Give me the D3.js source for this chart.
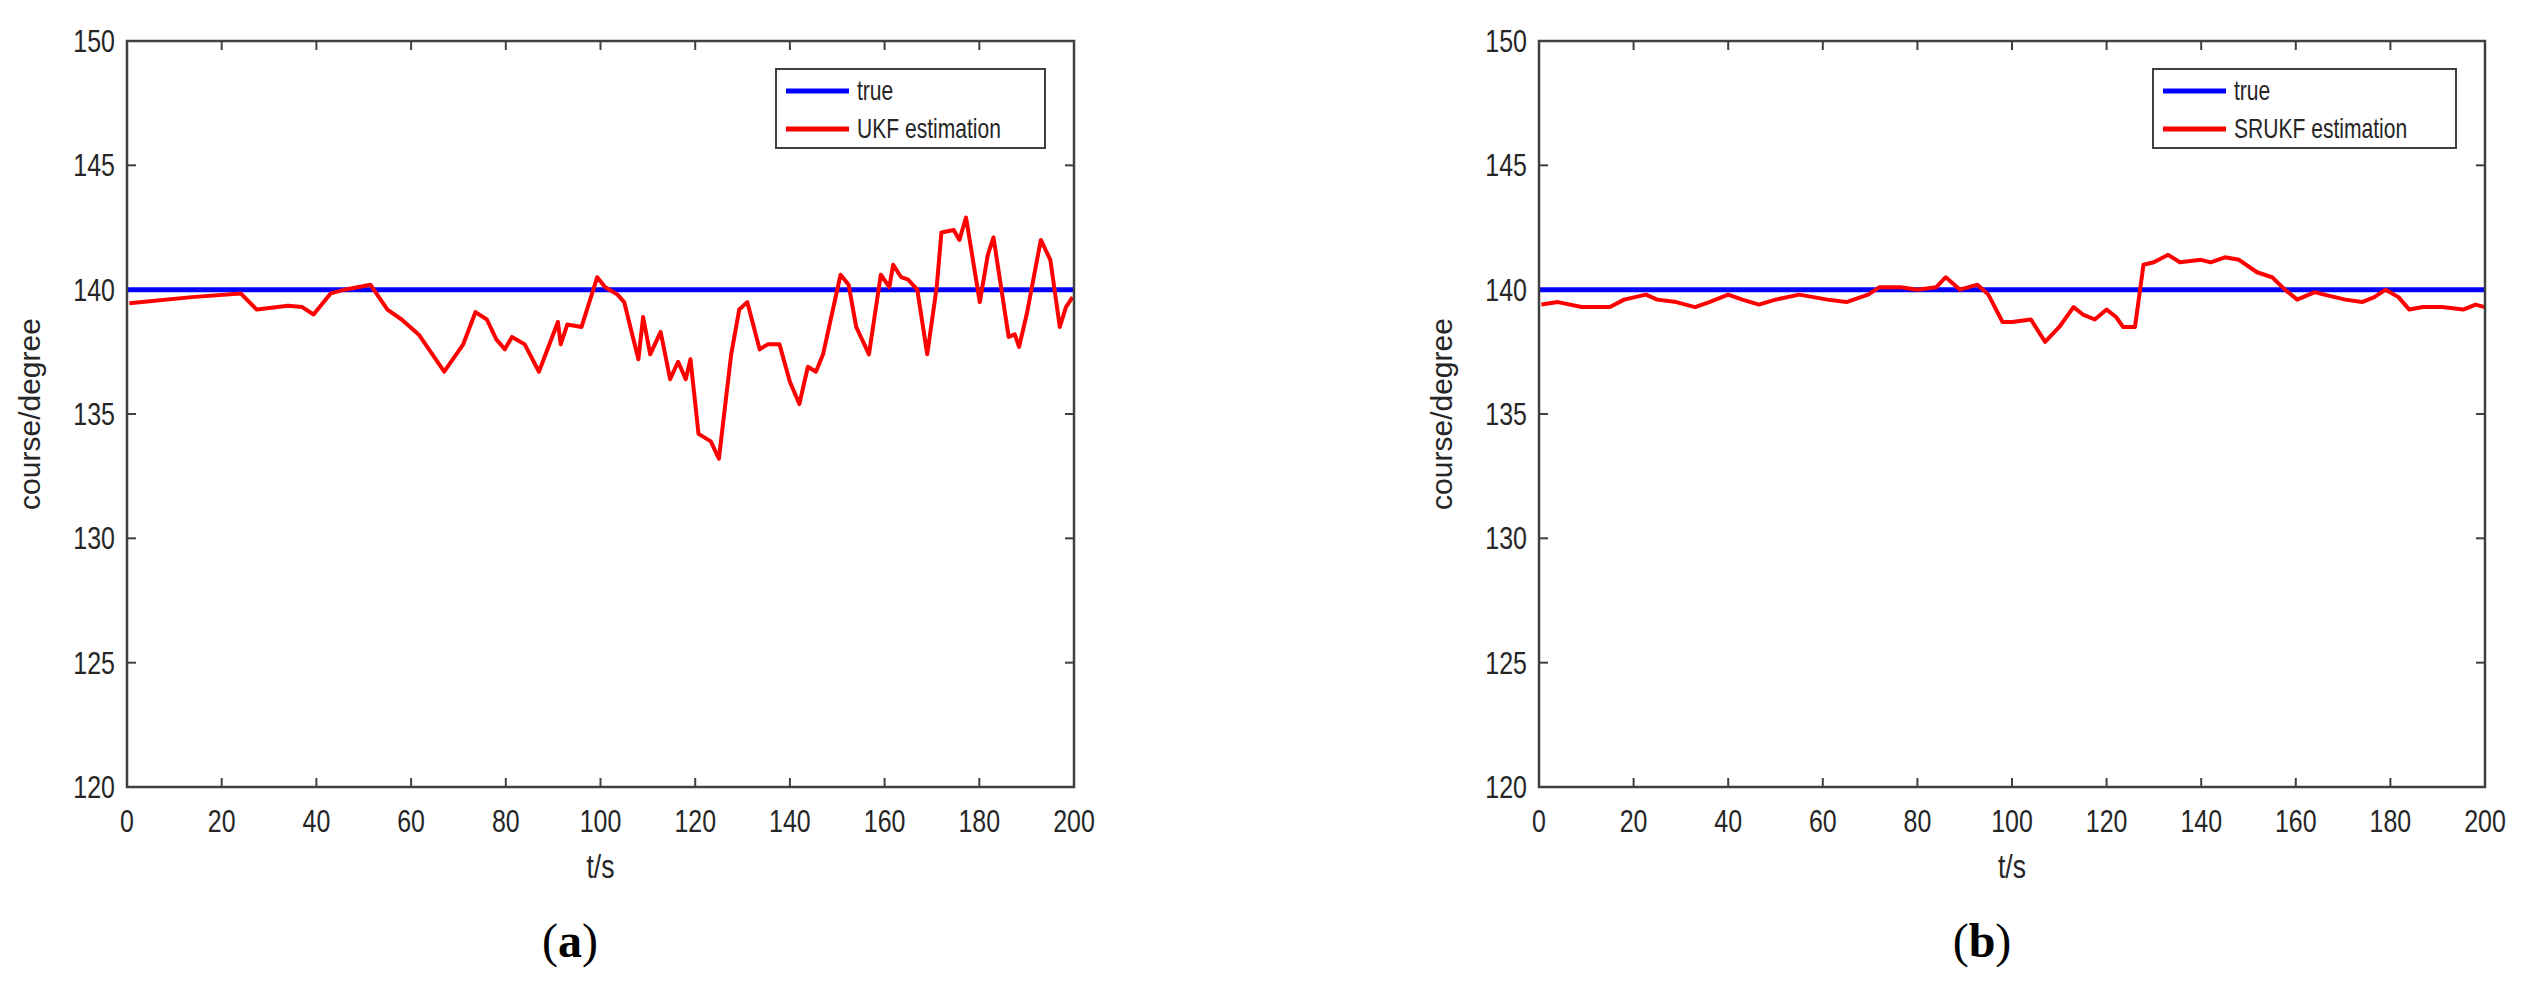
<!DOCTYPE html>
<html><head><meta charset="utf-8">
<script src="https://cdn.jsdelivr.net/npm/d3@7"></script>
<style>body{margin:0;background:#fff}</style></head>
<body><svg id="c" width="2538" height="990"></svg>
<script>
const xTicks=[0,20,40,60,80,100,120,140,160,180,200];
const yTicks=[120,125,130,135,140,145,150];
const trueValue=140;
const ukfT=[0.5,13.7,24,27.4,34,37,39.4,43,46,51.4,55,58,61.6,67,71,73.6,76,78,79.8,81.3,84,87,91,91.6,93,96,99.3,101,103.6,105,108,109,110.5,112.7,114.7,116.4,118,119,120.7,123.3,125,127.6,129.3,131,133.6,135.3,137.8,140,142,143.8,145.5,147,150.7,152.4,154,156.7,159.2,161,161.8,163.5,165,166.9,169,171,172,174.6,175.8,177.2,180.1,181.8,183,186.2,187.5,188.4,190,193,195,197,198.3,199.7];
const ukfV=[139.45,139.7,139.85,139.2,139.35,139.3,139.0,139.85,140,140.2,139.2,138.8,138.2,136.7,137.8,139.1,138.8,138.0,137.6,138.1,137.8,136.7,138.7,137.8,138.6,138.5,140.5,140.1,139.8,139.5,137.2,138.9,137.4,138.3,136.4,137.1,136.4,137.2,134.2,133.9,133.2,137.4,139.2,139.5,137.6,137.8,137.8,136.3,135.4,136.9,136.7,137.4,140.6,140.2,138.5,137.4,140.6,140.1,141,140.5,140.4,140,137.4,140.1,142.3,142.4,142,142.9,139.5,141.4,142.1,138.1,138.2,137.7,139.0,142.0,141.2,138.5,139.3,139.7];
const srT=[0.5,4,9,15,18,22.6,25,29,33,36,40,43,46.5,50,55,61,65,69.6,72,76.5,80,84,86,89,92.7,95,98,100,104,107,110,113,115,117.5,120,122,123.5,126,127.8,130,133,135.5,140,142,145,148,151.8,155,157.7,160.3,164,166,170.5,174,176.6,179,181.7,184,186.9,191,195.4,198,200];
const srV=[139.4,139.5,139.3,139.3,139.6,139.8,139.6,139.5,139.3,139.5,139.8,139.6,139.4,139.6,139.8,139.6,139.5,139.8,140.1,140.1,140.0,140.1,140.5,140.0,140.2,139.8,138.7,138.7,138.8,137.9,138.5,139.3,139.0,138.8,139.2,138.9,138.5,138.5,141.0,141.1,141.4,141.1,141.2,141.1,141.3,141.2,140.7,140.5,140.0,139.6,139.9,139.8,139.6,139.5,139.7,140.0,139.7,139.2,139.3,139.3,139.2,139.4,139.3];

const svg=d3.select('#c');
const SX=0.78;
function txt(g,x,y,s,anchor,size,base){
  const t=g.append('g').attr('transform',`translate(${x},${y}) scale(${SX},1)`);
  t.append('text').attr('text-anchor',anchor).attr('dominant-baseline',base||'auto')
   .attr('font-family','Liberation Sans, Arial, sans-serif').attr('font-size',size).attr('fill','#262626').text(s);
}
function panel(L,R,T,B,ts,vs,label,lg,cap){
  const x=d3.scaleLinear().domain([0,200]).range([L,R]);
  const y=d3.scaleLinear().domain([120,150]).range([B,T]);
  const g=svg.append('g');
  g.append('rect').attr('x',L).attr('y',T).attr('width',R-L).attr('height',B-T).attr('fill','#fff');
  // ticks (inward, all sides)
  xTicks.forEach(v=>{
    g.append('line').attr('x1',x(v)).attr('x2',x(v)).attr('y1',B).attr('y2',B-9).attr('stroke','#404040').attr('stroke-width',2);
    g.append('line').attr('x1',x(v)).attr('x2',x(v)).attr('y1',T).attr('y2',T+9).attr('stroke','#404040').attr('stroke-width',2);
    txt(g,x(v),832,String(v),'middle',32);
  });
  yTicks.forEach(v=>{
    g.append('line').attr('y1',y(v)).attr('y2',y(v)).attr('x1',L).attr('x2',L+9).attr('stroke','#404040').attr('stroke-width',2);
    g.append('line').attr('y1',y(v)).attr('y2',y(v)).attr('x1',R).attr('x2',R-9).attr('stroke','#404040').attr('stroke-width',2);
    txt(g,L-12,y(v)+11,String(v),'end',32);
  });
  g.append('line').attr('x1',x(0)).attr('x2',x(200)).attr('y1',y(trueValue)).attr('y2',y(trueValue)).attr('stroke','#0000ff').attr('stroke-width',5);
  const line=d3.line().x((d,i)=>x(ts[i])).y(d=>y(d));
  g.append('path').datum(vs).attr('d',line).attr('fill','none').attr('stroke','#ff0000').attr('stroke-width',4).attr('stroke-linejoin','round');
  g.append('rect').attr('x',L).attr('y',T).attr('width',R-L).attr('height',B-T).attr('fill','none').attr('stroke','#404040').attr('stroke-width',2.5);
  // legend
  g.append('rect').attr('x',lg[0]).attr('y',69).attr('width',lg[1]-lg[0]).attr('height',79).attr('fill','#fff').attr('stroke','#404040').attr('stroke-width',2);
  [['true','#0000ff',91],[label,'#ff0000',129]].forEach(([s,c,yy])=>{
    g.append('line').attr('x1',lg[0]+10).attr('x2',lg[0]+73).attr('y1',yy).attr('y2',yy).attr('stroke',c).attr('stroke-width',5);
    txt(g,lg[0]+81,yy+9,s,'start',27);
  });
  // axis labels
  txt(g,(L+R)/2,878,'t/s','middle',34);
  g.append('text').attr('transform',`translate(${L-87},${(T+B)/2}) rotate(-90)`).attr('text-anchor','middle')
   .attr('font-family','Liberation Sans, Arial, sans-serif').attr('font-size',30).attr('fill','#262626').text('course/degree');
  const c=g.append('text').attr('x',cap).attr('y',957).attr('text-anchor','middle').attr('font-family','Liberation Serif, Times New Roman, serif').attr('font-size',48).attr('fill','#000');
  c.append('tspan').text('(');c.append('tspan').attr('font-weight','bold').text(label.startsWith('UKF')?'a':'b');c.append('tspan').text(')');
}
panel(127,1074,41,787,ukfT,ukfV,'UKF estimation',[776,1045],570);
panel(1539,2485,41,787,srT,srV,'SRUKF estimation',[2153,2456],1982);
</script></body></html>
